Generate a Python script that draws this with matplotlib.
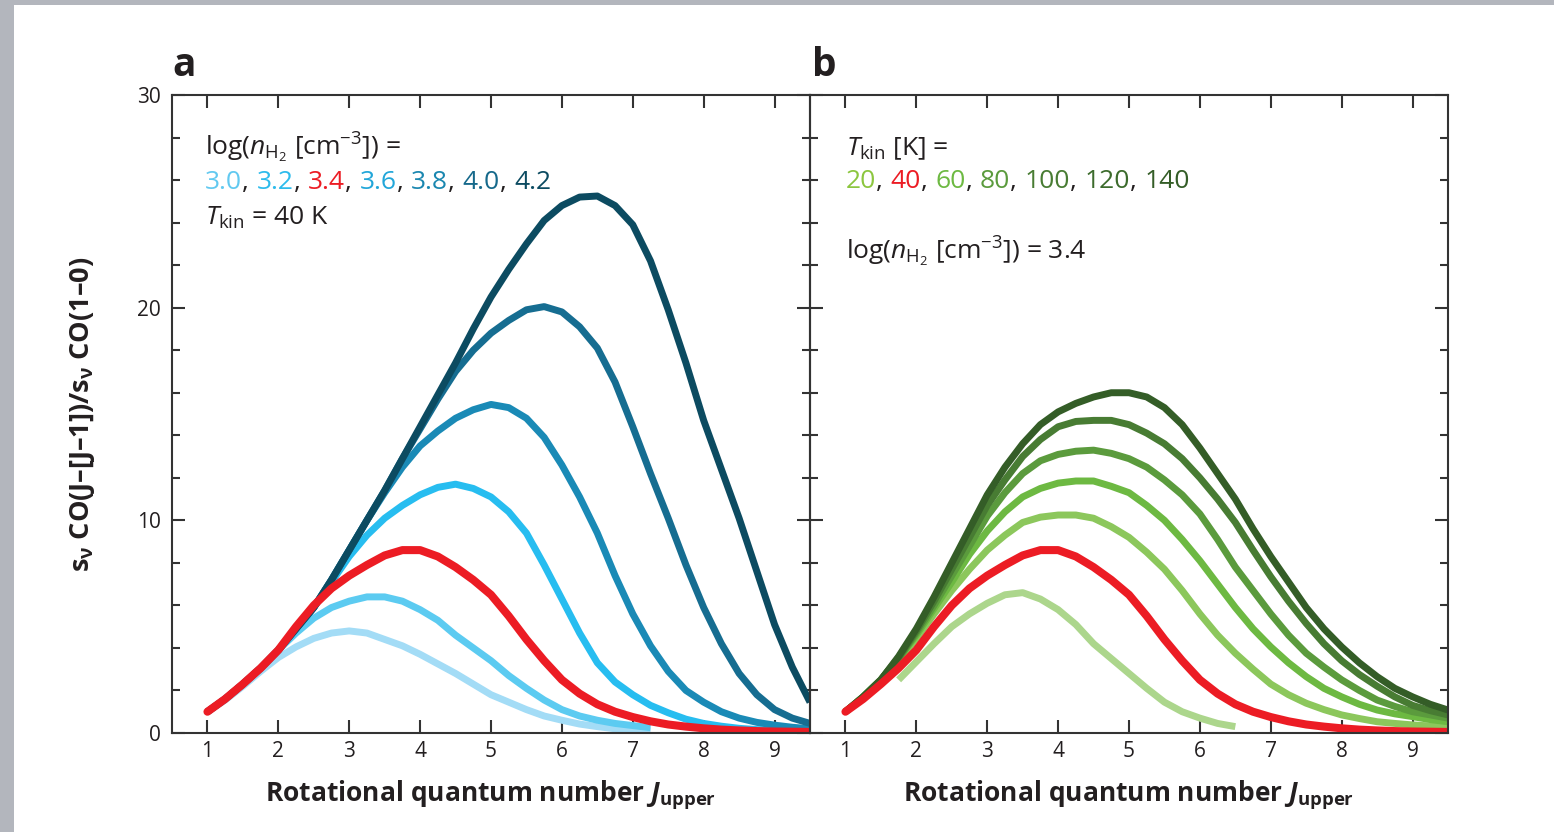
import matplotlib.pyplot as plt
from matplotlib.patches import Rectangle
from matplotlib.ticker import MultipleLocator

plt.rcParams['font.family'] = ['Open Sans', 'DejaVu Sans']
plt.rcParams['mathtext.fontset'] = 'custom'
plt.rcParams['mathtext.rm'] = 'Open Sans'
plt.rcParams['mathtext.it'] = 'Open Sans:italic'
plt.rcParams['mathtext.bf'] = 'Open Sans:bold'
plt.rcParams['mathtext.bfit'] = 'Open Sans:bold:italic'

# J upper grid, quarter steps from 1 to 9.5
J = [1 + 0.25 * i for i in range(35)]

# panel a : log n(H2), T = 40 K
n30 = [1.0, 1.55, 2.2, 2.9, 3.55, 4.05, 4.45, 4.7, 4.8, 4.7, 4.4, 4.1, 3.7, 3.25, 2.8, 2.3,
       1.8, 1.45, 1.1, 0.8, 0.6, 0.42, 0.3, 0.2, 0.15, 0.1]
n32 = [3.9, 4.7, 5.4, 5.9, 6.2, 6.4, 6.4, 6.2, 5.8, 5.3, 4.6, 4.0, 3.4, 2.7, 2.1, 1.55,
       1.1, 0.8, 0.6, 0.45, 0.35, 0.25]   # starts at J = 2
n34 = [1.0, 1.6, 2.3, 3.05, 3.9, 5.0, 6.0, 6.8, 7.4, 7.9, 8.35, 8.6, 8.6, 8.3, 7.8, 7.2,
       6.5, 5.5, 4.4, 3.4, 2.5, 1.85, 1.35, 1.0, 0.75, 0.55, 0.4, 0.3, 0.22, 0.16, 0.12,
       0.09, 0.07, 0.06, 0.05]
n36 = [1.0, 1.6, 2.3, 3.05, 3.9, 4.9, 5.9, 7.1, 8.3, 9.3, 10.1, 10.7, 11.2, 11.55, 11.7, 11.5,
       11.1, 10.4, 9.4, 7.9, 6.3, 4.7, 3.3, 2.4, 1.8, 1.3, 0.95, 0.65, 0.45, 0.32, 0.22,
       0.16, 0.12, 0.1, 0.08]
n38 = [1.0, 1.6, 2.3, 3.05, 3.9, 4.9, 5.9, 7.2, 8.6, 10.0, 11.3, 12.5, 13.5, 14.2, 14.8, 15.2,
       15.45, 15.3, 14.8, 13.9, 12.6, 11.1, 9.4, 7.4, 5.6, 4.1, 2.9, 2.0, 1.45, 1.0, 0.7,
       0.5, 0.37, 0.27, 0.2]
n40 = [1.0, 1.6, 2.3, 3.05, 3.9, 4.9, 5.9, 7.2, 8.6, 10.0, 11.4, 12.9, 14.3, 15.7, 17.0, 18.0,
       18.8, 19.4, 19.9, 20.05, 19.8, 19.1, 18.1, 16.5, 14.4, 12.2, 10.1, 7.9, 5.9, 4.2, 2.8,
       1.8, 1.1, 0.7, 0.45]
n42 = [1.0, 1.6, 2.3, 3.05, 3.9, 4.9, 5.9, 7.2, 8.6, 10.0, 11.4, 12.9, 14.4, 15.9, 17.4, 19.0,
       20.5, 21.8, 23.0, 24.1, 24.8, 25.2, 25.25, 24.8, 23.9, 22.2, 19.9, 17.4, 14.7, 12.4,
       10.1, 7.6, 5.1, 3.1, 1.45]

# panel b : T kin, log n(H2) = 3.4
t20 = [2.5, 3.35, 4.2, 5.0, 5.6, 6.1, 6.5, 6.6, 6.3, 5.8, 5.1, 4.2, 3.5, 2.8, 2.1, 1.45,
       1.0, 0.7, 0.45, 0.3]   # starts at J = 1.75
t60 = [1.0, 1.65, 2.4, 3.4, 4.45, 5.6, 6.7, 7.7, 8.6, 9.3, 9.9, 10.15, 10.25, 10.25, 10.1, 9.7,
       9.2, 8.5, 7.7, 6.7, 5.6, 4.6, 3.75, 3.0, 2.3, 1.8, 1.4, 1.1, 0.85, 0.68, 0.53, 0.45,
       0.38, 0.33, 0.3]
t80 = [1.0, 1.7, 2.5, 3.5, 4.6, 5.85, 7.1, 8.4, 9.5, 10.4, 11.1, 11.5, 11.75, 11.85, 11.85,
       11.6, 11.3, 10.7, 10.0, 9.1, 8.1, 7.0, 5.9, 4.9, 4.05, 3.3, 2.65, 2.1, 1.7, 1.35, 1.08,
       0.9, 0.77, 0.63, 0.53]
t100 = [1.0, 1.7, 2.5, 3.5, 4.7, 6.0, 7.4, 8.8, 10.2, 11.3, 12.2, 12.8, 13.1, 13.25, 13.3,
        13.15, 12.9, 12.5, 11.9, 11.2, 10.3, 9.1, 7.8, 6.7, 5.6, 4.6, 3.75, 3.1, 2.5, 2.0,
        1.55, 1.25, 1.0, 0.85, 0.7]
t120 = [1.0, 1.7, 2.5, 3.55, 4.8, 6.2, 7.7, 9.2, 10.7, 11.9, 13.0, 13.8, 14.4, 14.65, 14.7,
        14.7, 14.5, 14.1, 13.6, 12.9, 12.0, 11.0, 9.9, 8.6, 7.35, 6.2, 5.15, 4.2, 3.4, 2.75,
        2.2, 1.7, 1.3, 1.05, 0.85]
t140 = [1.0, 1.7, 2.5, 3.6, 4.9, 6.4, 8.0, 9.6, 11.2, 12.5, 13.6, 14.5, 15.1, 15.5, 15.8,
        16.0, 16.0, 15.8, 15.3, 14.5, 13.4, 12.2, 11.0, 9.6, 8.3, 7.1, 5.9, 4.9, 4.05, 3.3,
        2.65, 2.1, 1.7, 1.35, 1.08]

RED = '#ec1c24'
blues = ['#a3dcf6', '#5ccbf1', RED, '#27bdf0', '#1a8ab6', '#166d91', '#0c4b61']
greens = ['#acd68c', RED, '#8cc75c', '#6db942', '#5b9b3d', '#487c33', '#345d27']
TXT = '#231f20'
FS = 19

fig = plt.figure(figsize=(15.54, 8.32), dpi=100, facecolor='#b3b6bd')
fig.patches.append(Rectangle((14 / 1554, 0), 1, 827 / 832, transform=fig.transFigure,
                             facecolor='white', edgecolor='none', zorder=-10))

axa = fig.add_axes([172 / 1554, 1 - 733 / 832, 638 / 1554, 638 / 832])
axb = fig.add_axes([810 / 1554, 1 - 733 / 832, 638 / 1554, 638 / 832])


def style(ax, ylabels):
    ax.set_xlim(0.5, 9.5)
    ax.set_ylim(0, 30)
    ax.set_facecolor('none')
    ax.yaxis.set_major_locator(MultipleLocator(10))
    ax.yaxis.set_minor_locator(MultipleLocator(2))
    ax.set_xticks(range(1, 10))
    ax.tick_params(which='both', direction='in', top=True, right=True, color='#333333', width=1.5)
    ax.tick_params(which='major', length=9.5, labelsize=15, labelcolor=TXT, pad=6)
    ax.tick_params(which='minor', length=6)
    ax.tick_params(axis='y', pad=8)
    if not ylabels:
        ax.tick_params(axis='y', labelleft=False)
    for s in ax.spines.values():
        s.set_linewidth(1.5)
        s.set_color('#333333')
    ax.set_xlabel(r'Rotational quantum number $\mathbfit{J}_{\mathbf{upper}}$',
                  fontsize=19, fontweight='bold', color=TXT)
    ax.xaxis.set_label_coords(0.5, -0.07)


def colored_line(ax, x, y, pieces, size=FS):
    prev = None
    for s, c, gap in pieces:
        if prev is None:
            prev = ax.text(x, y, s, color=c, fontsize=size, va='baseline', transform=ax.transAxes)
        else:
            prev = ax.annotate(s, xy=(1, y), xycoords=(prev, 'axes fraction'), xytext=(gap, 0),
                               textcoords='offset points', color=c, fontsize=size, va='baseline')


def series_pieces(labels, colors):
    pieces = []
    for i, (lab, col) in enumerate(zip(labels, colors)):
        pieces.append((lab, col, 5.5 if i else 0))
        if i < len(labels) - 1:
            pieces.append((',', TXT, 0))
    return pieces


def line(ax, x, y, col, lw=5, cap='butt'):
    ax.plot(x, y, color=col, lw=lw, solid_capstyle=cap, solid_joinstyle='round')


style(axa, True)
style(axb, False)

# panel a
line(axa, J[:len(n30)], n30, blues[0])
line(axa, J[4:4 + len(n32)], n32, blues[1])
for vals, col in zip([n36, n38, n40, n42], blues[3:]):
    line(axa, J, vals, col)
line(axa, J, n34, RED, lw=5.8, cap='round')

axa.text(0.052, 0.906, r'log($n_{\mathrm{H_2}}$ [cm$^{-3}$]) =', fontsize=FS, color=TXT,
         va='baseline', transform=axa.transAxes)
colored_line(axa, 0.052, 0.852, series_pieces(['3.0', '3.2', '3.4', '3.6', '3.8', '4.0', '4.2'],
                                               ['#62c9f0', '#2dbbec', RED, '#21a6d9', '#1a87b0', '#16698b', '#0c4b61']))
axa.text(0.052, 0.797, r'$T_{\mathrm{kin}}$ = 40 K', fontsize=FS, color=TXT,
         va='baseline', transform=axa.transAxes)
axa.set_ylabel(r'$\mathbf{s_{\nu}}$ CO(J–[J–1])/$\mathbf{s_{\nu}}$ CO(1–0)',
               fontsize=19.5, fontweight='bold', color=TXT)
axa.yaxis.set_label_coords(-0.118, 0.5)
axa.text(0.0, 1.03, 'a', fontsize=28, fontweight='bold', color=TXT, transform=axa.transAxes)

# panel b
line(axb, J[3:3 + len(t20)], t20, greens[0])
for vals, col in zip([t60, t80, t100, t120, t140], greens[2:]):
    line(axb, J, vals, col)
line(axb, J, n34, RED, lw=5.8, cap='round')

axb.text(0.056, 0.906, r'$T_{\mathrm{kin}}$ [K] =', fontsize=FS, color=TXT,
         va='baseline', transform=axb.transAxes)
colored_line(axb, 0.056, 0.854, series_pieces(['20', '40', '60', '80', '100', '120', '140'],
                                               ['#8cc63f', RED, '#6db942', '#5b9b3d', '#487c33', '#3c6b2c', '#345d27']))
axb.text(0.056, 0.742, r'log($n_{\mathrm{H_2}}$ [cm$^{-3}$]) = 3.4', fontsize=FS, color=TXT,
         va='baseline', transform=axb.transAxes)
axb.text(0.003, 1.03, 'b', fontsize=28, fontweight='bold', color=TXT, transform=axb.transAxes)

fig.savefig('out.png', dpi=100, facecolor=fig.get_facecolor())
